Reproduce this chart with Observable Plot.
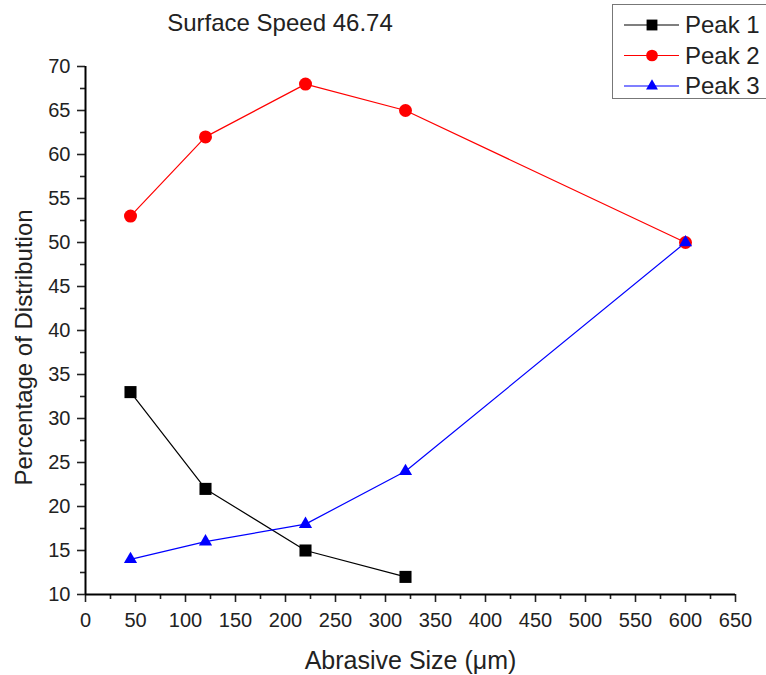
<!DOCTYPE html>
<html>
<head>
<meta charset="utf-8">
<script src="https://cdn.jsdelivr.net/npm/d3@7"></script>
<script src="https://cdn.jsdelivr.net/npm/@observablehq/plot@0.6"></script>
<style>
  html, body { margin: 0; padding: 0; background: #fff; }
  #wrap { position: relative; width: 766px; height: 675px; font-family: "Liberation Sans", Arial, sans-serif; color: #222; }
  #title { position: absolute; left: 110px; width: 340px; top: 7px; text-align: center; font-size: 24px; line-height: 32px; }
  #legend { position: absolute; left: 612px; top: 4px; width: 170px; height: 93px; border: 1.5px solid #777; background: #fff; }
  #plot { position: absolute; left: 0; top: 0; }
  #plot g[aria-label$="tick label"] { font-size: 20px; }
</style>
</head>
<body>
<div id="wrap">
  <div id="plot"></div>
  <div id="title">Surface Speed 46.74</div>
  <div id="legend"></div>
</div>
<script>
// ---- data ----
const abrasiveSize = [45, 120, 220, 320, 600];
const peak1 = [33, 22, 15, 12];
const peak2 = [53, 62, 68, 65, 50];
const peak3 = [14, 16, 18, 24, 50];
const seriesNames = ["Peak 1", "Peak 2", "Peak 3"];
const seriesColors = ["#000000", "#ff0000", "#0000ff"];
const seriesSymbols = ["square", "circle", "triangle"];
const xTicks = d3.range(0, 651, 50);
const yTicks = d3.range(10, 71, 5);

const seriesValues = [peak1, peak2, peak3];
const series = seriesNames.map((name, i) => ({
  name,
  color: seriesColors[i],
  symbol: seriesSymbols[i],
  points: seriesValues[i].map((v, j) => ({x: abrasiveSize[j], y: v}))
}));
const symR = {square: 6.8, circle: 6.5, triangle: 4.9};

const marks = [
  Plot.axisX(xTicks, {tickSize: 8, tickPadding: 10, fontSize: 20, strokeWidth: 1.6, label: null}),
  Plot.axisX(d3.range(25, 650, 50), {tickSize: 5, tickFormat: () => "", strokeWidth: 1.6, label: null}),
  Plot.axisY(yTicks, {tickSize: 8, tickPadding: 7, fontSize: 20, strokeWidth: 1.6, label: null}),
  Plot.axisY(d3.range(12.5, 70, 5), {tickSize: 5, tickFormat: () => "", strokeWidth: 1.6, label: null}),
  Plot.ruleY([10], {stroke: "#000", strokeWidth: 2}),
  Plot.ruleX([0], {stroke: "#000", strokeWidth: 2}),
  Plot.text(["Abrasive Size (μm)"], {frameAnchor: "bottom", dy: 66, textAnchor: "middle", lineAnchor: "middle", fontSize: 25, fill: "#222"}),
  Plot.text(["Percentage of Distribution"], {frameAnchor: "left", dx: -61, dy: 17, rotate: -90, textAnchor: "middle", lineAnchor: "middle", fontSize: 24, fill: "#222"})
];
for (const s of series) {
  marks.push(Plot.line(s.points, {x: "x", y: "y", stroke: s.color, strokeWidth: 1.2}));
}
for (const s of series) {
  marks.push(Plot.dot(s.points, {x: "x", y: "y", fill: s.color, symbol: s.symbol, r: symR[s.symbol], stroke: "none"}));
}

const chart = Plot.plot({
  width: 766,
  height: 675,
  marginLeft: 85,
  marginRight: 31,
  marginTop: 66,
  marginBottom: 81,
  x: {domain: [0, 650]},
  y: {domain: [10, 70]},
  style: {fontFamily: "Liberation Sans, Arial, sans-serif", fontSize: "20px", color: "#222", background: "#fff"},
  marks
});
document.getElementById("plot").appendChild(chart);

// ---- legend ----
const lsvg = d3.select("#legend").append("svg").attr("width", 170).attr("height", 93)
  .style("display", "block");
const symMap = {square: d3.symbolSquare, circle: d3.symbolCircle, triangle: d3.symbolTriangle};
series.forEach((s, i) => {
  const cy = 20 + i * 30.5;
  const g = lsvg.append("g").attr("transform", `translate(0,${cy})`);
  g.append("line").attr("x1", 11).attr("x2", 66).attr("y1", 0).attr("y2", 0)
    .attr("stroke", s.color).attr("stroke-width", 1.2);
  const r = symR[s.symbol] * 0.9;
  g.append("path").attr("transform", "translate(39,0)")
    .attr("d", d3.symbol(symMap[s.symbol], Math.PI * r * r)()).attr("fill", s.color);
  g.append("text").attr("x", 72).attr("y", 0).attr("dy", "0.35em")
    .attr("font-size", 24).attr("fill", "#222")
    .attr("font-family", "Liberation Sans, Arial, sans-serif").text(s.name);
});
</script>
</body>
</html>
